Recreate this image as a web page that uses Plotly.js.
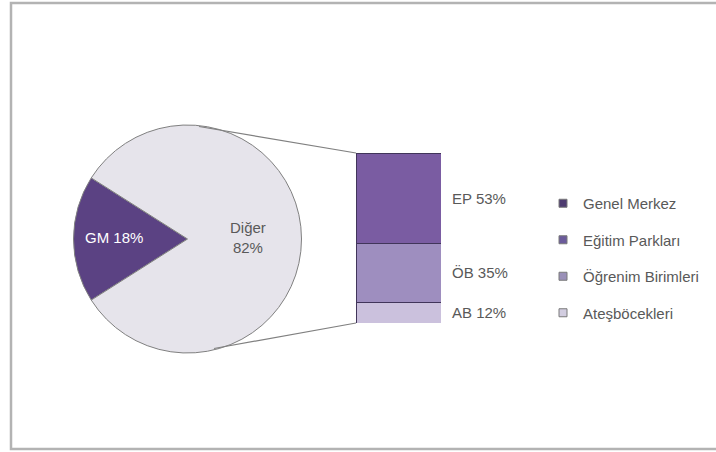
<!DOCTYPE html>
<html>
<head>
<meta charset="utf-8">
<script src="https://cdn.plot.ly/plotly-3.0.1.min.js"></script>
<style>html,body{margin:0;padding:0;background:#fff;}#chart{width:716px;height:452px;}</style>
</head>
<body>
<div id="chart"></div>
<script>
// Pie (main) data
const pieLabels = ["GM", "Diğer"];
const pieValues = [18, 82];
const pieColors = ["#5b4283", "#e6e4eb"];

// Bar (breakdown of "Diğer") data, bottom to top
const barLabels = ["AB", "ÖB", "EP"];
const barValues = [12, 35, 53];
const barColors = ["#cbc1dd", "#9e8ebf", "#7a5ca2"];

// Legend entries (top to bottom)
const legendNames = ["Genel Merkez", "Eğitim Parkları", "Öğrenim Birimleri", "Ateşböcekleri"];
const legendColors = ["#4e3b70", "#6b5b9b", "#9a90b8", "#d2cde0"];

const textColor = "#595959";
const fontFamily = "Liberation Sans, Arial, sans-serif";

const W = 716, H = 452;
const px = v => v / W;
const py = v => 1 - v / H;

const traces = [];

traces.push({
  type: "pie",
  labels: pieLabels,
  values: pieValues,
  sort: false,
  direction: "counterclockwise",
  rotation: -122.4,
  marker: {colors: pieColors, line: {color: "#808080", width: 1}},
  textinfo: "none",
  hoverinfo: "none",
  showlegend: false,
  domain: {x: [px(73.5), px(301.5)], y: [py(353), py(125)]}
});

barLabels.forEach((lab, i) => {
  traces.push({
    type: "bar",
    x: [0],
    y: [barValues[i]],
    width: [1],
    marker: {color: barColors[i], line: {color: "#41355a", width: 1}},
    xaxis: "x", yaxis: "y",
    showlegend: false,
    hoverinfo: "none"
  });
});

legendNames.forEach((name, i) => {
  traces.push({
    type: "scatter",
    mode: "markers",
    x: [null], y: [null],
    name: name,
    legendgroup: "g" + i,
    legendrank: i + 1,
    marker: {symbol: "square", size: 8, color: legendColors[i], line: {color: "#7a7a7a", width: 1}},
    xaxis: "x", yaxis: "y",
    hoverinfo: "none"
  });
});

const annotations = [];
// pie labels
annotations.push({xref: "paper", yref: "paper", x: px(114), y: py(237), text: pieLabels[0] + " " + pieValues[0] + "%",
  showarrow: false, font: {color: "#ffffff", size: 15, family: fontFamily}, xanchor: "center", yanchor: "middle"});
annotations.push({xref: "paper", yref: "paper", x: px(248), y: py(237), text: pieLabels[1] + "<br>" + pieValues[1] + "%",
  showarrow: false, font: {color: textColor, size: 15, family: fontFamily}, xanchor: "center", yanchor: "middle"});
// bar labels
let cum = 0;
barLabels.forEach((lab, i) => {
  const mid = cum + barValues[i] / 2;
  cum += barValues[i];
  annotations.push({xref: "x", yref: "y", x: 0.5, y: mid, xshift: 9, text: lab + " " + barValues[i] + "%",
    showarrow: false, xanchor: "left", yanchor: "middle", font: {color: textColor, size: 15, family: fontFamily}});
});

const shapes = [
  // outer frame
  {type: "rect", xref: "paper", yref: "paper", x0: px(11), x1: 1.02, y0: py(449), y1: py(3),
   line: {color: "#b3b3b3", width: 2.5}, fillcolor: "rgba(0,0,0,0)", layer: "below"},
  // connector lines
  {type: "line", xref: "paper", yref: "paper", x0: px(199), y0: py(126.5), x1: px(356), y1: py(153),
   line: {color: "#808080", width: 1.2}},
  {type: "line", xref: "paper", yref: "paper", x0: px(214), y0: py(348.5), x1: px(356), y1: py(323),
   line: {color: "#808080", width: 1.2}}
];

const layout = {
  width: W, height: H,
  margin: {l: 0, r: 0, t: 0, b: 0},
  paper_bgcolor: "#ffffff",
  plot_bgcolor: "rgba(0,0,0,0)",
  barmode: "stack",
  font: {family: fontFamily, color: textColor, size: 15},
  xaxis: {domain: [px(356), px(441)], range: [-0.5, 0.5], visible: false, fixedrange: true},
  yaxis: {domain: [py(323), py(153)], range: [0, 100], visible: false, fixedrange: true},
  showlegend: true,
  legend: {x: px(543), y: py(187), xanchor: "left", yanchor: "top", tracegroupgap: 14,
    font: {size: 15, color: textColor, family: fontFamily}, bgcolor: "rgba(0,0,0,0)", itemclick: false},
  annotations: annotations,
  shapes: shapes
};

Plotly.newPlot("chart", traces, layout, {displayModeBar: false, staticPlot: true});
</script>
</body>
</html>
